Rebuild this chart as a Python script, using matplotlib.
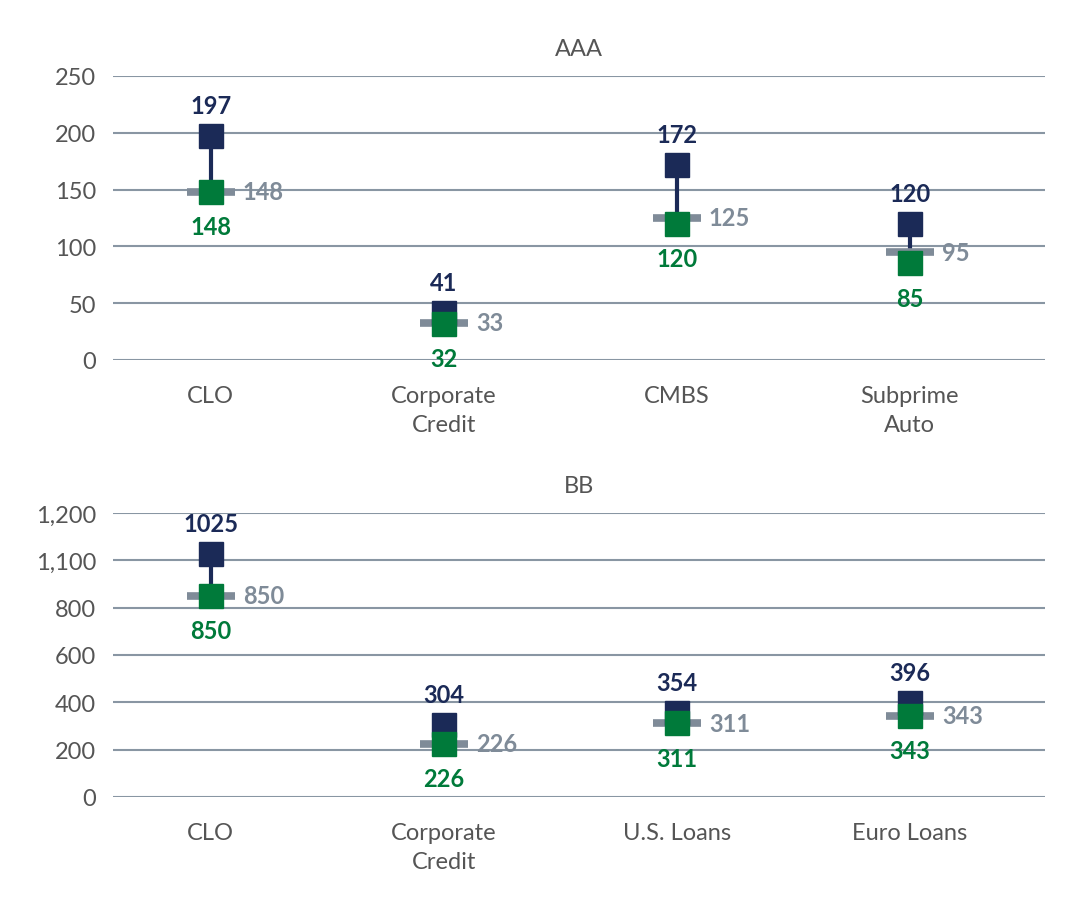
import numpy as np
import matplotlib.pyplot as plt

plt.rcParams['font.family'] = ['Lato', 'DejaVu Sans']

# AAA panel
aaa_cats = ['CLO', 'Corporate\nCredit', 'CMBS', 'Subprime\nAuto']
aaa_high = [197, 41, 172, 120]
aaa_low = [148, 32, 120, 85]
aaa_mid = [148, 33, 125, 95]
aaa_ticks = [0, 50, 100, 150, 200, 250]
aaa_ticklabels = ['0', '50', '100', '150', '200', '250']

# BB panel
bb_cats = ['CLO', 'Corporate\nCredit', 'U.S. Loans', 'Euro Loans']
bb_high = [1025, 304, 354, 396]
bb_low = [850, 226, 311, 343]
bb_mid = [850, 226, 311, 343]
bb_ticks = [0, 200, 400, 600, 800, 1000, 1200]
bb_ticklabels = ['0', '200', '400', '600', '800', '1,100', '1,200']

navy = '#1b2a57'
green = '#007a3a'
grey = '#7f8b98'
grid = '#8996a3'
text = '#555555'
fs = 17


def panel(ax, title, cats, high, low, mid, ticks, ticklabels):
    x = np.arange(len(cats))
    for t in ticks:
        ax.axhline(t, color=grid, lw=1.5, zorder=0)
    ax.vlines(x, low, high, color=navy, lw=3, zorder=2)
    ax.plot(x, mid, ls='none', marker='_', ms=35, mew=5.5, color=grey, zorder=3)
    ax.plot(x, high, ls='none', marker='s', ms=17, color=navy, zorder=4)
    ax.plot(x, low, ls='none', marker='s', ms=17, color=green, zorder=5)
    for xi, h, l, m in zip(x, high, low, mid):
        ax.annotate(str(h), (xi, h), xytext=(0, 22), textcoords='offset points',
                    ha='center', va='center', color=navy, fontsize=fs, fontweight='bold')
        ax.annotate(str(l), (xi, l), xytext=(0, -25), textcoords='offset points',
                    ha='center', va='center', color=green, fontsize=fs, fontweight='bold')
        ax.annotate(str(m), (xi, m), xytext=(23, 0), textcoords='offset points',
                    ha='left', va='center', color=grey, fontsize=fs, fontweight='bold')
    ax.set_xlim(-0.42, 3.58)
    ax.set_ylim(ticks[0], ticks[-1])
    ax.set_yticks(ticks)
    ax.set_yticklabels(ticklabels)
    ax.set_xticks(x)
    ax.set_xticklabels(cats, linespacing=1.45)
    ax.tick_params(length=0, labelsize=fs, labelcolor=text)
    ax.tick_params(axis='x', pad=18)
    ax.tick_params(axis='y', pad=12)
    for s in ax.spines.values():
        s.set_visible(False)
    ax.set_title(title, fontsize=fs, color=text, pad=15)


fig = plt.figure(figsize=(10.76, 9.04), dpi=100)
ax1 = fig.add_axes([113 / 1076, 1 - 361 / 904, 932 / 1076, 284 / 904])
ax2 = fig.add_axes([113 / 1076, 1 - 798 / 904, 932 / 1076, 284 / 904])

panel(ax1, 'AAA', aaa_cats, aaa_high, aaa_low, aaa_mid, aaa_ticks, aaa_ticklabels)
panel(ax2, 'BB', bb_cats, bb_high, bb_low, bb_mid, bb_ticks, bb_ticklabels)

fig.savefig('out.png', dpi=100)
